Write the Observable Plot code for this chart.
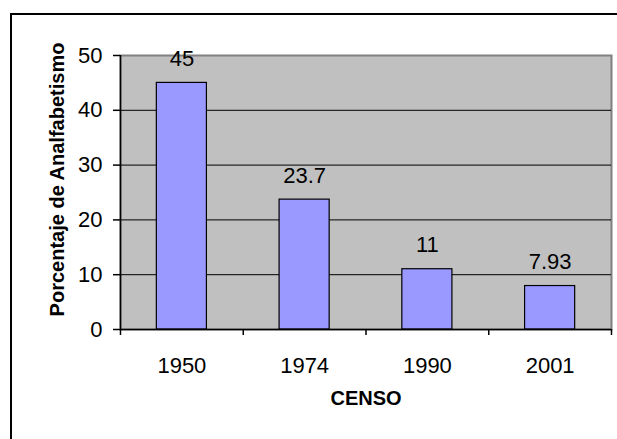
<!DOCTYPE html>
<html>
<head>
<meta charset="utf-8">
<script src="https://cdn.jsdelivr.net/npm/d3@7"></script>
<script src="https://cdn.jsdelivr.net/npm/@observablehq/plot@0.6"></script>
<style>
  html, body { margin: 0; padding: 0; background: white; overflow: hidden; width: 617px; height: 439px; }
  #chart { position: absolute; left: 0; top: 0; }
  #border { position: absolute; left: 10px; top: 13px; width: 700px; height: 500px; border: 2px solid black; pointer-events: none; }
</style>
</head>
<body>
<div id="chart"></div>
<div id="border"></div>
<script>
const censos = ["1950", "1974", "1990", "2001"];
const porcentajes = [45, 23.7, 11, 7.93];
const etiquetas = ["45", "23.7", "11", "7.93"];
const yTicks = [0, 10, 20, 30, 40, 50];
const gridValues = [10, 20, 30, 40];

const data = censos.map((c, i) => ({i, censo: c, v: porcentajes[i], label: etiquetas[i]}));
const half = 0.204;

const chart = Plot.plot({
  width: 617,
  height: 439,
  marginLeft: 120,
  marginRight: 6,
  marginTop: 55,
  marginBottom: 110,
  style: {fontFamily: "'Liberation Sans', Arial, sans-serif", fontSize: "22px", color: "black", background: "transparent", overflow: "visible"},
  x: {domain: [0, censos.length], axis: null},
  y: {domain: [0, 50], axis: null},
  marks: [
    Plot.frame({fill: "#C0C0C0", stroke: "#808080", strokeWidth: 2}),
    Plot.ruleY(gridValues, {stroke: "black", strokeWidth: 1}),
    Plot.rectY(data, {x1: d => d.i + 0.5 - half, x2: d => d.i + 0.5 + half, y: "v", fill: "#9999FF", stroke: "black", strokeWidth: 1.2}),
    Plot.ruleX([0], {stroke: "black", strokeWidth: 1.5}),
    Plot.ruleY([0], {stroke: "black", strokeWidth: 1.5}),
    Plot.axisY({ticks: yTicks, tickSize: 7, tickPadding: 11, label: null, fontSize: 22, stroke: "black", strokeWidth: 1.5}),
    Plot.axisX({ticks: d3.range(censos.length + 1), tickFormat: () => "", tickSize: 6, label: null, stroke: "black", strokeWidth: 1.5}),
    Plot.axisX({ticks: censos.map((c, i) => i + 0.5), tickFormat: v => censos[Math.floor(v)], tickSize: 0, tickPadding: 28, label: null, fontSize: 22}),
    Plot.text(data, {x: d => d.i + 0.5, y: "v", text: "label", dy: -24, fontSize: 22, fill: "black"}),
    Plot.text(["Porcentaje de Analfabetismo"], {text: d => d, frameAnchor: "left", textAnchor: "middle", rotate: -90, dx: -63.4, dy: -13, fontWeight: "bold", fontSize: 20, fill: "black"}),
    Plot.text(["CENSO"], {text: d => d, frameAnchor: "bottom", textAnchor: "middle", dy: 75.6, fontWeight: "bold", fontSize: 20, fill: "black"})
  ]
});
document.getElementById("chart").appendChild(chart);
</script>
</body>
</html>
